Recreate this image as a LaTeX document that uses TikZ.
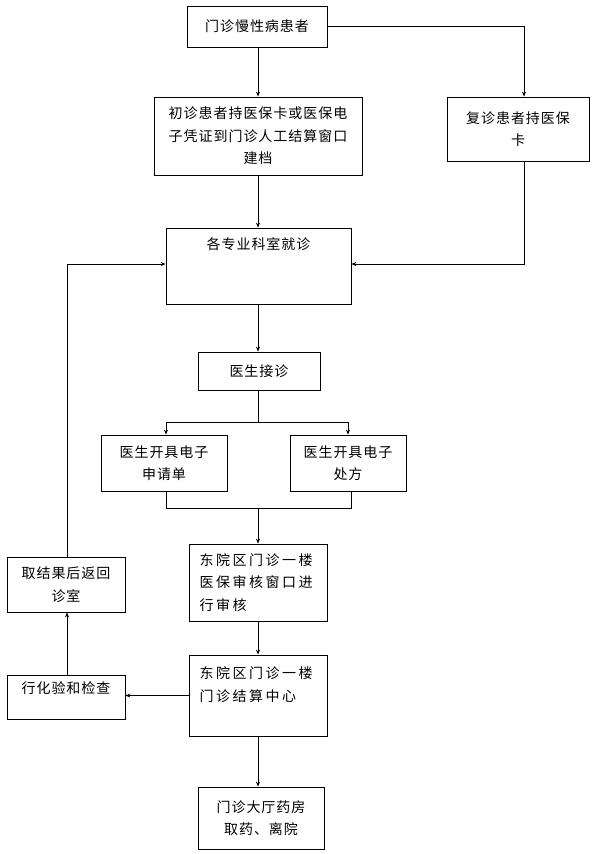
\documentclass[tikz,border=0pt]{standalone}
\usepackage{fontspec}
\newfontfamily\cjk[LetterSpace=7]{Noto Sans CJK SC}
\newfontfamily\cjkw[LetterSpace=18]{Noto Sans CJK SC}
\usetikzlibrary{arrows.meta}
\begin{document}
\begin{tikzpicture}[x=1pt,y=-1pt,
  box/.style={draw,line width=0.8pt,inner sep=0pt,align=center,
    font={\cjk\fontsize{14pt}{22.5pt}\selectfont}},
  wbox/.style={box,align=left,font={\cjkw\fontsize{14pt}{22.5pt}\selectfont}},
  conn/.style={line width=0.8pt},
  arr/.style={conn,-{Stealth[length=5pt,width=4pt]}}]
\useasboundingbox (0,0) rectangle (598,854);
\node[box,minimum width=140pt,minimum height=41pt] (b1) at (257,26.5) {门诊慢性病患者};
\node[box,minimum width=208pt,minimum height=78pt] (b2) at (258,136) {初诊患者持医保卡或医保电\\子凭证到门诊人工结算窗口\\建档};
\node[box,minimum width=142pt,minimum height=64pt] (b3) at (518,129) {复诊患者持医保\\卡};
\node[box,minimum width=185pt,minimum height=76pt] (b4) at (258.5,266) {各专业科室就诊\\\mbox{}\\\mbox{}};
\node[box,minimum width=122pt,minimum height=38pt] (b5) at (259,371) {医生接诊};
\node[box,minimum width=126pt,minimum height=56pt] (b6) at (164,463) {医生开具电子\\申请单};
\node[box,minimum width=116pt,minimum height=56pt] (b7) at (348,463) {医生开具电子\\处方};
\node[wbox,text width=117pt,minimum width=138pt,minimum height=77pt] (b8) at (258,582.5) {东院区门诊一楼\\医保审核窗口进\\行审核};
\node[wbox,text width=117pt,minimum width=138pt,minimum height=81pt] (b9) at (258,695.5) {东院区门诊一楼\\门诊结算中心\\\mbox{}};
\node[box,minimum width=126pt,minimum height=62pt] (b10) at (261,818) {门诊大厅药房\\取药、离院};
\node[box,minimum width=118pt,minimum height=55pt] (b11) at (66,584.5) {取结果后返回\\诊室};
\node[box,minimum width=118pt,minimum height=44pt] (b12) at (66,697) {行化验和检查\\[-3pt]\mbox{}};
\coordinate (sp) at (258,0);
\coordinate (rx) at (524,0);
\coordinate (lx) at (67,0);
\coordinate (ay) at (0,264);
\coordinate (j1) at (258,422);
\coordinate (j2) at (258,508);
\draw[arr] (b1.south -| sp) -- (b2.north -| sp);
\draw[arr] (b1.east) -| (b3.north -| rx);
\draw[arr] (b2.south -| sp) -- (b4.north -| sp);
\draw[arr] (b3.south -| rx) |- (b4.east |- ay);
\draw[arr] (b4.south -| sp) -- (b5.north -| sp);
\draw[conn] (b5.south -| sp) -- (j1);
\draw[arr] (j1) -| ([xshift=2pt]b6.north);
\draw[arr] (j1) -| (b7.north);
\draw[conn] ([xshift=2pt]b6.south) |- (j2);
\draw[conn] ([xshift=3pt]b7.south) |- (j2);
\draw[arr] (j2) -- (b8.north -| sp);
\draw[arr] (b8.south -| sp) -- (b9.north -| sp);
\draw[arr] (b9.south -| sp) -- (b10.north -| sp);
\draw[arr] (b9.west) -- (b12.east |- b9.west);
\draw[arr] (b12.north -| lx) -- (b11.south -| lx);
\draw[arr] (b11.north -| lx) |- (b4.west |- ay);
\end{tikzpicture}
\end{document}
